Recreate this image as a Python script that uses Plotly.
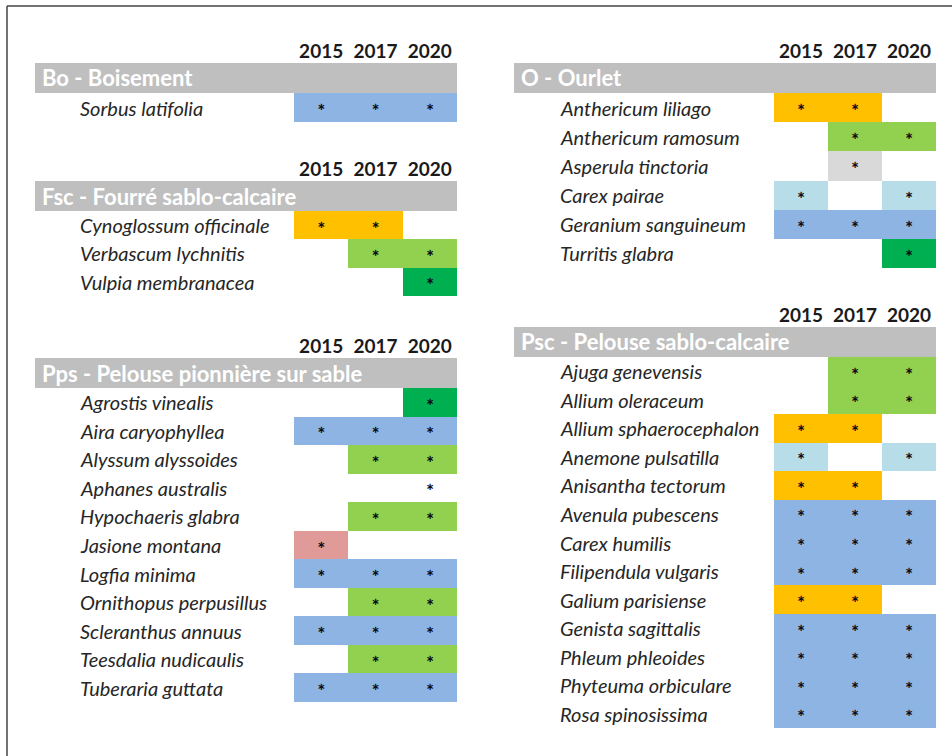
import plotly.graph_objects as go

# ---------------- data ----------------
years = ["2015", "2017", "2020"]

bo_species = ["Sorbus latifolia"]
bo_presence = [[1, 1, 1]]
bo_status = ["stable"]

fsc_species = ["Cynoglossum officinale", "Verbascum lychnitis", "Vulpia membranacea"]
fsc_presence = [[1, 1, 0], [0, 1, 1], [0, 0, 1]]
fsc_status = ["lost", "new2017", "new2020"]

pps_species = ["Agrostis vinealis", "Aira caryophyllea", "Alyssum alyssoides",
               "Aphanes australis", "Hypochaeris glabra", "Jasione montana",
               "Logfia minima", "Ornithopus perpusillus", "Scleranthus annuus",
               "Teesdalia nudicaulis", "Tuberaria guttata"]
pps_presence = [[0, 0, 1], [1, 1, 1], [0, 1, 1], [0, 0, 1], [0, 1, 1], [1, 0, 0],
                [1, 1, 1], [0, 1, 1], [1, 1, 1], [0, 1, 1], [1, 1, 1]]
pps_status = ["new2020", "stable", "new2017", "none", "new2017", "only2015",
              "stable", "new2017", "stable", "new2017", "stable"]

o_species = ["Anthericum liliago", "Anthericum ramosum", "Asperula tinctoria",
             "Carex pairae", "Geranium sanguineum", "Turritis glabra"]
o_presence = [[1, 1, 0], [0, 1, 1], [0, 1, 0], [1, 0, 1], [1, 1, 1], [0, 0, 1]]
o_status = ["lost", "new2017", "only2017", "intermittent", "stable", "new2020"]

psc_species = ["Ajuga genevensis", "Allium oleraceum", "Allium sphaerocephalon",
               "Anemone pulsatilla", "Anisantha tectorum", "Avenula pubescens",
               "Carex humilis", "Filipendula vulgaris", "Galium parisiense",
               "Genista sagittalis", "Phleum phleoides", "Phyteuma orbiculare",
               "Rosa spinosissima"]
psc_presence = [[0, 1, 1], [0, 1, 1], [1, 1, 0], [1, 0, 1], [1, 1, 0], [1, 1, 1],
                [1, 1, 1], [1, 1, 1], [1, 1, 0], [1, 1, 1], [1, 1, 1], [1, 1, 1],
                [1, 1, 1]]
psc_status = ["new2017", "new2017", "lost", "intermittent", "lost", "stable",
              "stable", "stable", "lost", "stable", "stable", "stable", "stable"]

section_titles = ["Bo - Boisement", "Fsc - Fourré sablo-calcaire",
                  "Pps - Pelouse pionnière sur sable", "O - Ourlet",
                  "Psc - Pelouse sablo-calcaire"]

# ---------------- styles ----------------
status_order = ["stable", "lost", "new2017", "new2020", "intermittent", "only2017", "only2015"]
status_colors = ["#8DB4E2", "#FFC000", "#92D050", "#00B050", "#B7DEE8", "#D9D9D9", "#E09A98"]

W, H = 952, 756
FONT = "Lato"

LEFT = dict(c0=294, c1=457, bar0=35, lab=78, tit=40)
RIGHT = dict(c0=774, c1=936, bar0=514, lab=558, tit=519)
sections = [
    (bo_species, bo_presence, bo_status, LEFT, 93, 122),
    (fsc_species, fsc_presence, fsc_status, LEFT, 211, 296),
    (pps_species, pps_presence, pps_status, LEFT, 388, 702),
    (o_species, o_presence, o_status, RIGHT, 93, 268),
    (psc_species, psc_presence, psc_status, RIGHT, 357, 728),
]

def px(x):
    return x / W

def py(y):
    return 1 - y / H

n = len(status_order)
colorscale = []
for i, c in enumerate(status_colors):
    colorscale.append([i / n, c])
    colorscale.append([(i + 1) / n, c])

fig = go.Figure()
layout = dict(
    width=W, height=H, margin=dict(l=0, r=0, t=0, b=0),
    paper_bgcolor="white", plot_bgcolor="rgba(0,0,0,0)",
    showlegend=False, font=dict(family=FONT, color="#222222"),
)
shapes = []
annotations = []

for k, (species, presence, status, col, top, bottom) in enumerate(sections, start=1):
    xa = "x" if k == 1 else f"x{k}"
    ya = "y" if k == 1 else f"y{k}"
    z = []
    for pres, st in zip(presence, status):
        code = status_order.index(st) if st in status_order else None
        z.append([code if (p and code is not None) else None for p in pres])
    fig.add_trace(go.Heatmap(
        x=years, y=species, z=z, xaxis=xa, yaxis=ya,
        colorscale=colorscale, zmin=-0.5, zmax=n - 0.5, showscale=False,
        hoverinfo="skip",
    ))
    sx, sy = [], []
    for sp, pres in zip(species, presence):
        for yr, p in zip(years, pres):
            if p:
                sx.append(yr)
                sy.append(sp)
    fig.add_trace(go.Scatter(
        x=sx, y=sy, mode="text", text=["∗"] * len(sx), xaxis=xa, yaxis=ya,
        textposition="middle center",
        textfont=dict(family="DejaVu Sans", size=10, color="#0d0d1a", weight="bold"),
        hoverinfo="skip",
    ))
    layout["xaxis" if k == 1 else f"xaxis{k}"] = dict(
        domain=[px(col["c0"]), px(col["c1"])], anchor=ya, side="top",
        type="category", range=[-0.5, 2.5], showgrid=False, zeroline=False,
        showline=False, ticks="", ticklabelstandoff=30,
        tickfont=dict(family=FONT, size=19, color="#1a1a1a", weight="bold"),
        fixedrange=True,
    )
    layout["yaxis" if k == 1 else f"yaxis{k}"] = dict(
        domain=[py(bottom), py(top)], anchor=xa, type="category",
        range=[len(species) - 0.5, -0.5], showgrid=False, zeroline=False,
        showline=False, showticklabels=False, ticks="", fixedrange=True,
    )
    shapes.append(dict(type="rect", xref="paper", yref="paper",
                       x0=px(col["bar0"]), x1=px(col["c1"]),
                       y0=py(top), y1=py(top - 30),
                       fillcolor="#BFBFBF", line=dict(width=0), layer="below"))
    annotations.append(dict(xref="paper", yref="paper", x=px(col["tit"]),
                            y=py(top - 15), text=f"<b>{section_titles[k-1]}</b>",
                            showarrow=False, xanchor="left", yanchor="middle",
                            font=dict(family=FONT, size=22, color="white")))
    for sp in species:
        annotations.append(dict(xref="paper", yref=ya, x=px(col["lab"]), y=sp,
                                text=f"<i>{sp}</i>", showarrow=False,
                                xanchor="left", yanchor="middle",
                                font=dict(family=FONT, size=20, color="#262626")))

shapes.append(dict(type="line", xref="paper", yref="paper", x0=px(7), x1=px(7),
                   y0=0, y1=py(6), line=dict(color="#444444", width=1.5)))
shapes.append(dict(type="line", xref="paper", yref="paper", x0=px(7), x1=1,
                   y0=py(6), y1=py(6), line=dict(color="#444444", width=1.5)))

layout["shapes"] = shapes
layout["annotations"] = annotations
fig.update_layout(**layout)
fig.write_html(
    "out.html",
    config={"displayModeBar": False},
    post_script="document.body.style.margin='0';document.body.style.overflow='hidden';",
)
